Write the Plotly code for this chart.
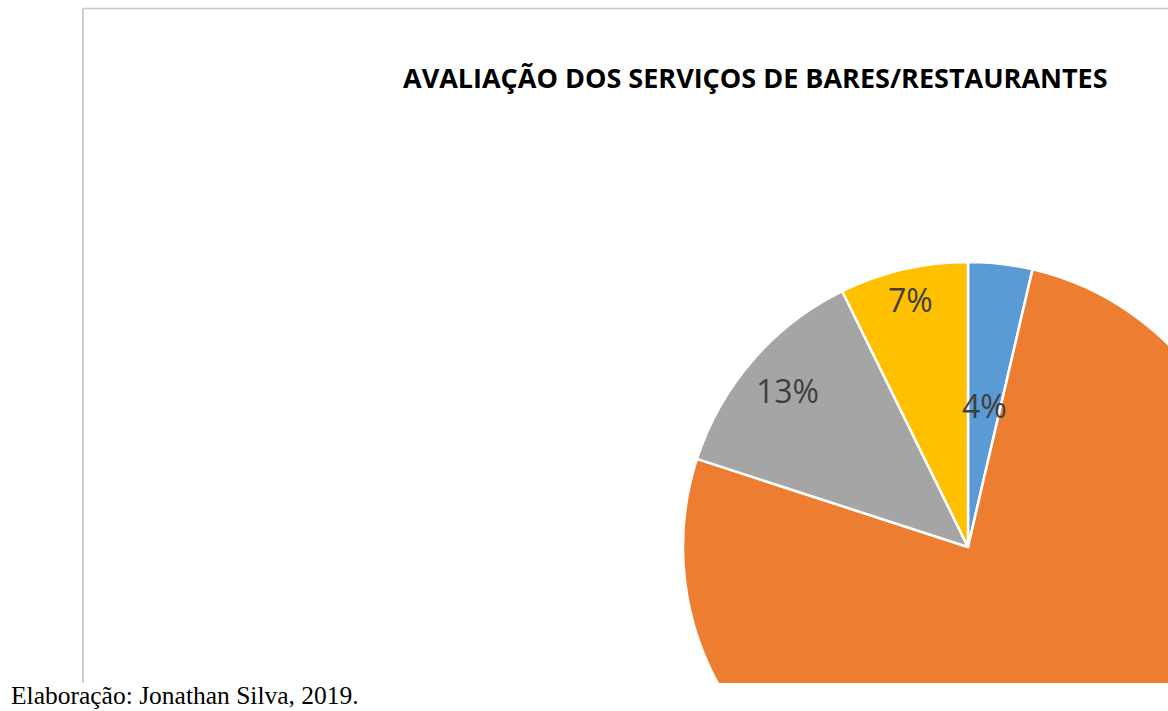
import math
import plotly.graph_objects as go

# ---- data ----
categories = ["Ótimo", "Bom", "Regular", "Ruim"]
counts = [2, 42, 7, 4]
label_text = ["4%", "76%", "13%", "7%"]
colors = ["#5B9BD5", "#ED7D31", "#A5A5A5", "#FFC000"]
title_text = "AVALIAÇÃO DOS SERVIÇOS DE BARES/RESTAURANTES"
footer_text = "Elaboração: Jonathan Silva, 2019."

# ---- layout geometry (pixels) ----
W, H = 1260, 840
CX, CY, R = 968, 547, 285
CLIP_Y = 683
label_r = [0.50, 0.0, 0.84, 0.89]
label_show = [True, False, True, True]


def px(x):
    return x / W


def py(y):
    return 1 - y / H


fig = go.Figure()
fig.add_trace(go.Pie(
    labels=categories,
    values=counts,
    sort=False,
    direction="clockwise",
    rotation=0,
    marker=dict(colors=colors, line=dict(color="white", width=2.5)),
    textinfo="none",
    hoverinfo="label+percent",
    showlegend=False,
    domain=dict(x=[px(CX - R), px(CX + R)], y=[py(CY + R), py(CY - R)]),
))

shapes = [
    # white cover clipping the chart image at its bottom
    dict(type="rect", xref="paper", yref="paper", x0=0, x1=1, y0=0, y1=py(CLIP_Y),
         fillcolor="white", line=dict(width=0), layer="above"),
    # frame lines of the chart image
    dict(type="line", xref="paper", yref="paper", x0=px(83), x1=1, y0=py(8.5), y1=py(8.5),
         line=dict(color="#C6CBD3", width=1.5), layer="above"),
    dict(type="line", xref="paper", yref="paper", x0=px(83), x1=px(83), y0=py(8.5), y1=py(CLIP_Y),
         line=dict(color="#BFBFBF", width=1.5), layer="above"),
]

annotations = [
    dict(text="<b>" + title_text + "</b>", xref="paper", yref="paper",
         x=px(755), y=py(77), xanchor="center", yanchor="middle", showarrow=False,
         font=dict(family="Open Sans", size=27, color="#000000")),
    dict(text=footer_text, xref="paper", yref="paper",
         x=px(9), y=py(695), xanchor="left", yanchor="middle", showarrow=False,
         font=dict(family="Liberation Serif", size=25.5, color="#000000")),
]

total = sum(counts)
cum = 0.0
for v, t, rf, show in zip(counts, label_text, label_r, label_show):
    mid = (cum + v / 2) / total * 2 * math.pi
    cum += v
    if not show:
        continue
    lx = CX + rf * R * math.sin(mid)
    ly = CY - rf * R * math.cos(mid)
    annotations.append(dict(text=t, xref="paper", yref="paper", x=px(lx), y=py(ly),
                            xanchor="center", yanchor="middle", showarrow=False,
                            font=dict(family="Open Sans", size=32, color="#404040")))

fig.update_layout(
    width=W, height=H,
    margin=dict(l=0, r=0, t=0, b=0),
    paper_bgcolor="white", plot_bgcolor="white",
    shapes=shapes, annotations=annotations,
)

fig.write_html(
    "out.html",
    config={"displayModeBar": False},
    post_script="document.body.style.margin='0';document.body.style.overflow='hidden';",
)
